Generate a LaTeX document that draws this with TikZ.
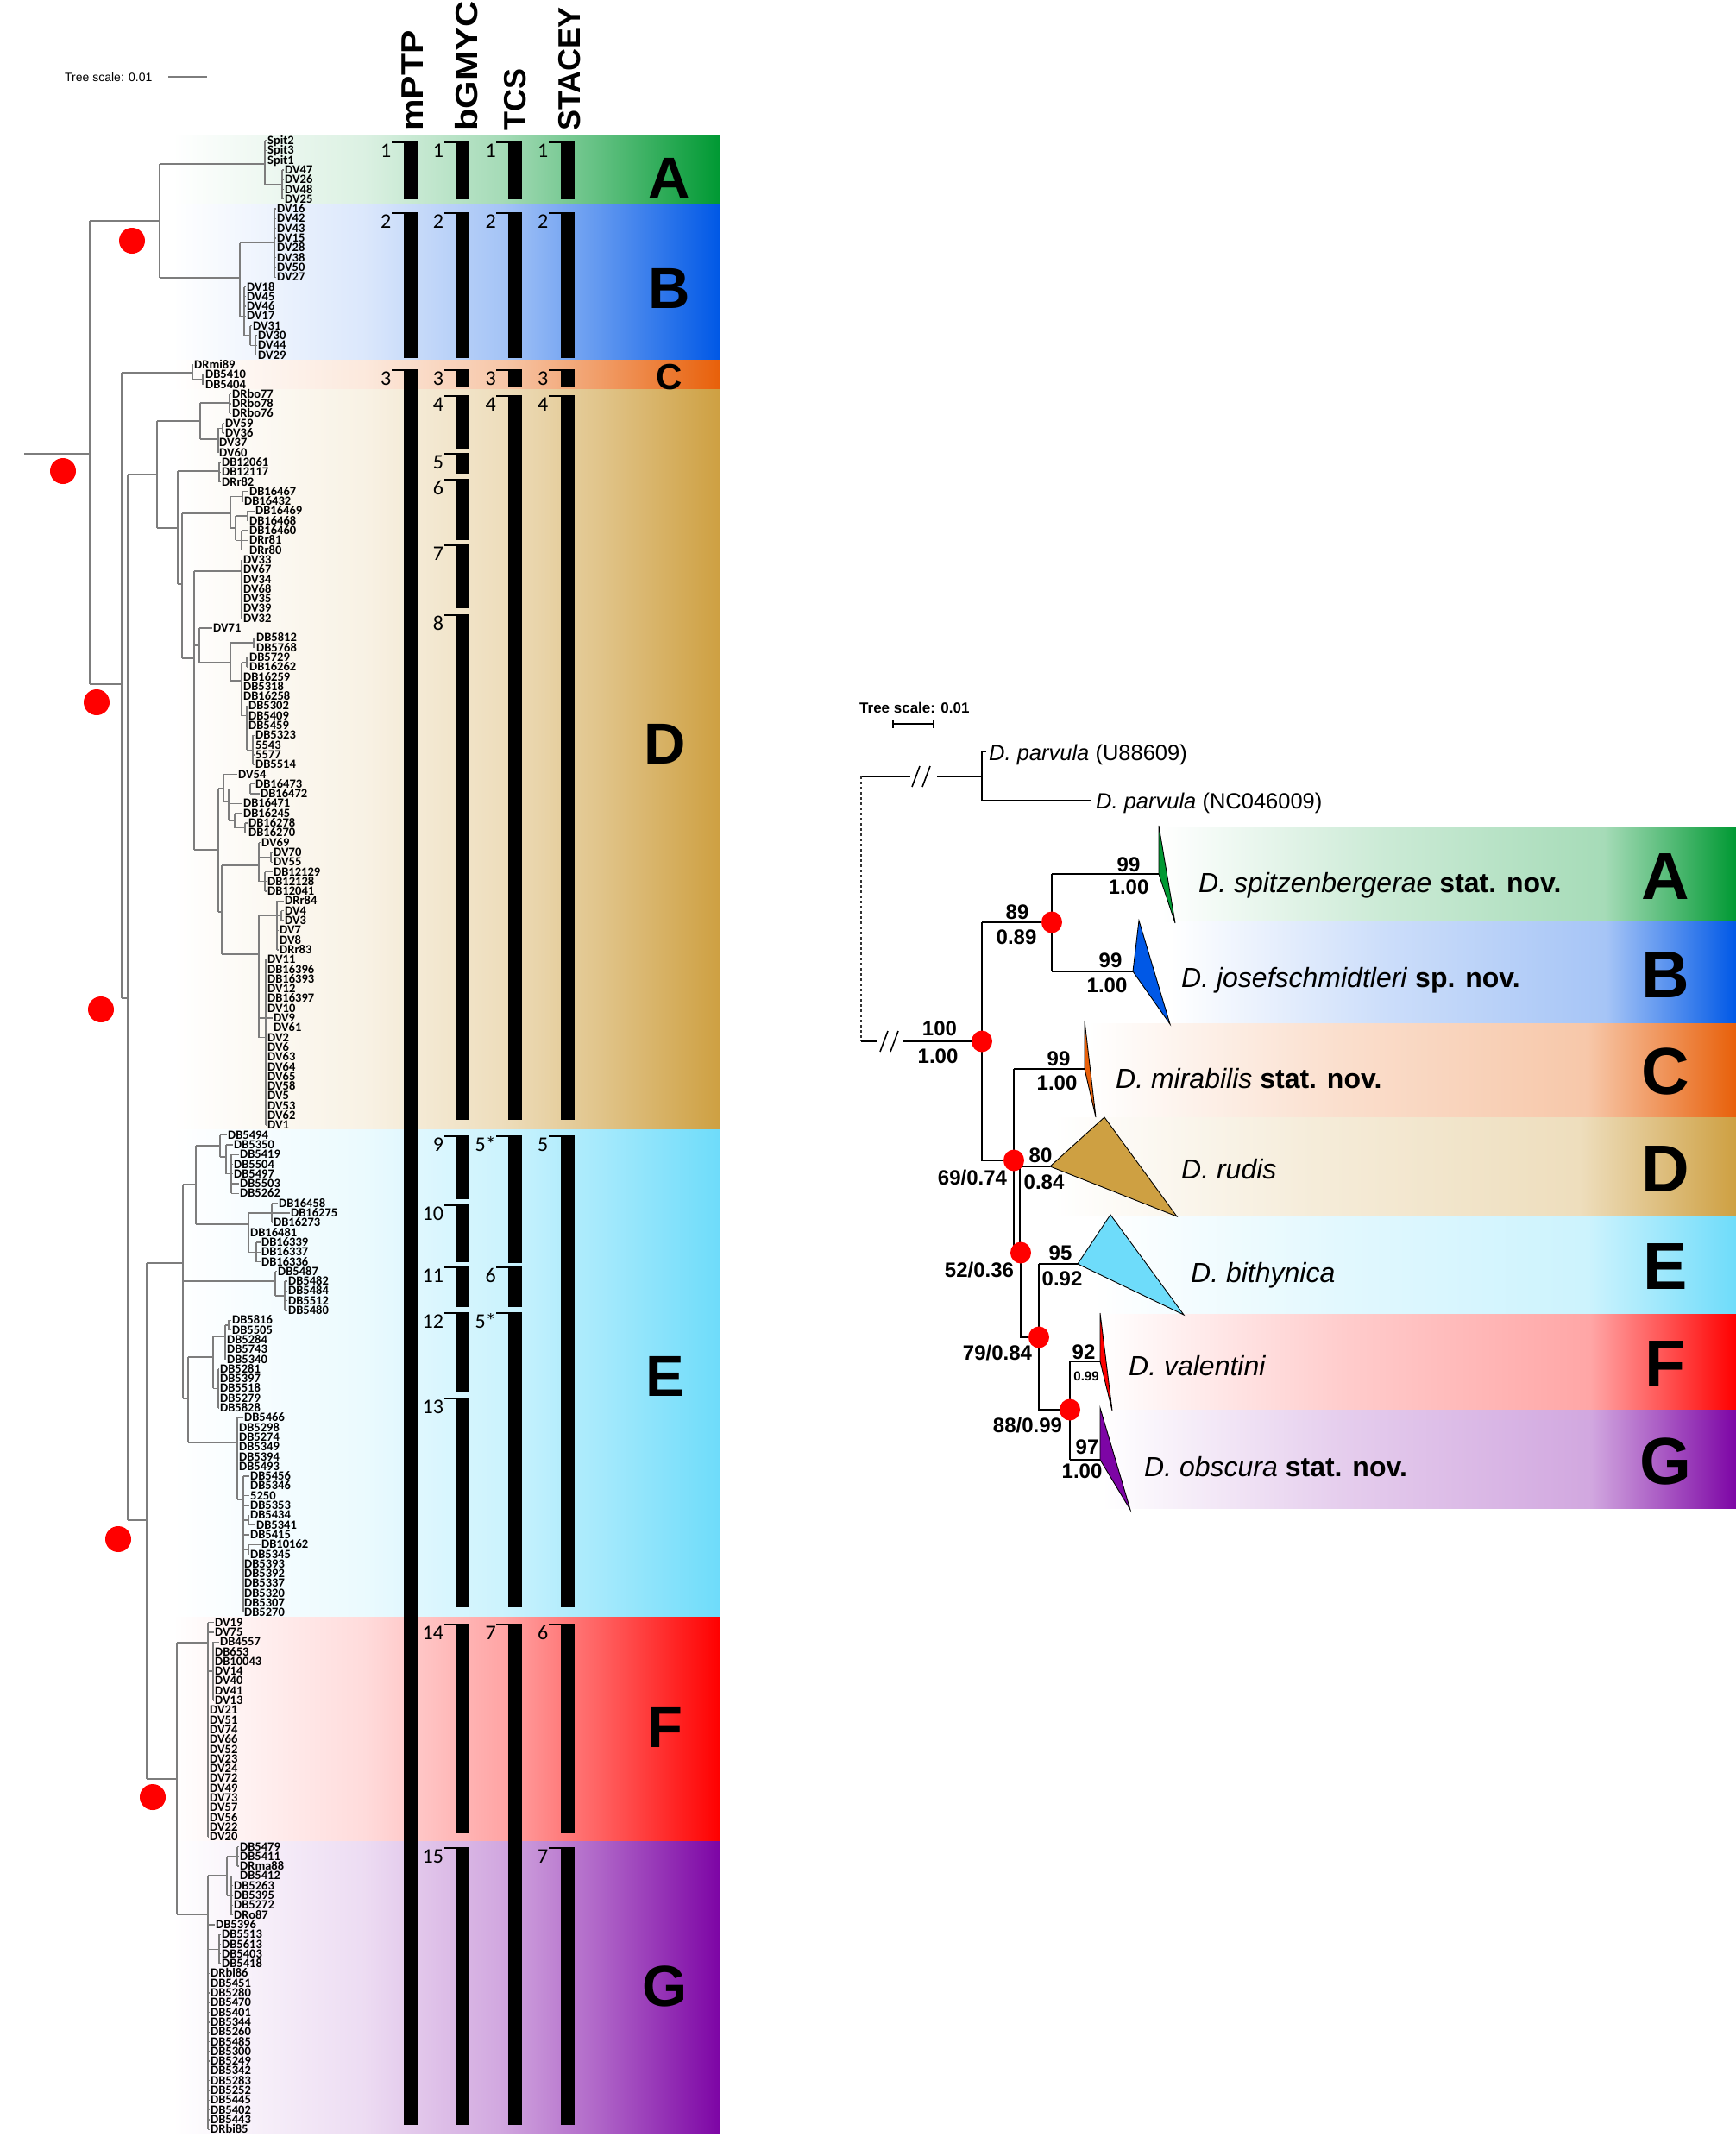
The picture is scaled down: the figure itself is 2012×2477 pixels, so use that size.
\documentclass[tikz,border=0pt]{standalone}
\usepackage{fontspec}
\setmainfont{Liberation Sans}
\newfontfamily\carl{Carlito}
\definecolor{cA}{RGB}{0,153,51}
\definecolor{cB}{RGB}{0,88,230}
\definecolor{cC}{RGB}{232,96,10}
\definecolor{cD}{RGB}{206,160,66}
\definecolor{cE}{RGB}{110,220,250}
\definecolor{cF}{RGB}{255,0,0}
\definecolor{cG}{RGB}{125,5,165}
\definecolor{treegray}{RGB}{125,125,125}
\newcommand\mkshade[2]{%
 \pgfdeclarehorizontalshading{L#1}{100bp}{color(0bp)=(white); color(25bp)=(white); color(42.5bp)=(#2!14); color(55bp)=(#2!35); color(63.5bp)=(#2!60); color(75bp)=(#2); color(100bp)=(#2)}%
 \pgfdeclarehorizontalshading{R#1}{100bp}{color(0bp)=(white); color(25bp)=(white); color(44bp)=(#2!20); color(63.5bp)=(#2!35); color(69.5bp)=(#2!68); color(75bp)=(#2); color(100bp)=(#2)}}
\mkshade{A}{cA}\mkshade{B}{cB}\mkshade{C}{cC}\mkshade{D}{cD}\mkshade{E}{cE}\mkshade{F}{cF}\mkshade{G}{cG}
\newcommand\Y[1]{163+11.3*(#1)}
\newcommand\hl[3]{\draw[tree] (#1,{#3}) -- (#2,{#3});}
\newcommand\vl[3]{\draw[tree] (#1,{#2}) -- (#1,{#3});}
\newcommand\pbar[4]{%
 \pgfmathsetmacro\xl{468+60.7*#1}%
 \fill (\xl,#2) rectangle ({\xl+15.5},#3);
 \fill ({\xl-14},#2) rectangle (\xl,{#2+2.3});
 \node[num] at ({\xl-14.5},{#2+18.5}) {#4};}
\tikzset{
 tree/.style={draw=treegray, line width=1.3pt},
 rt/.style={draw=black, line width=2.4pt},
 lab/.style={font=\carl\bfseries\fontsize{14.5}{14.5}\selectfont, inner sep=0pt, anchor=base west},
 num/.style={font=\carl\fontsize{24}{24}\selectfont, inner sep=0pt, anchor=base east},
 hdr/.style={font=\bfseries\fontsize{36}{36}\selectfont, inner sep=0pt, rotate=90, anchor=base west},
 bigL/.style={font=\bfseries\fontsize{67}{67}\selectfont, inner sep=0pt},
 bigR/.style={font=\bfseries\fontsize{77}{77}\selectfont, inner sep=0pt},
 sp/.style={font=\fontsize{32}{36}\selectfont, inner sep=0pt, anchor=base west},
 og/.style={font=\fontsize{25.5}{30}\selectfont, inner sep=0pt, anchor=base west},
 bs/.style={font=\bfseries\fontsize{24}{24}\selectfont, inner sep=0pt},
 tri/.style={draw=black, line width=0.9pt},
}
\begin{document}
\begin{tikzpicture}[x=1pt,y=-1pt]
\useasboundingbox (0,0) rectangle (2012,2477);
\fill[white] (0,0) rectangle (2012,2477);
% ---------- left bands
\shade[shading=LA] (200,157.35) rectangle (834,236.45);
\shade[shading=LB] (200,236.45) rectangle (834,417.25);
\shade[shading=LC] (200,417.25) rectangle (834,451.15);
\shade[shading=LD] (200,451.15) rectangle (834,1309.95);
\shade[shading=LE] (200,1309.95) rectangle (834,1874.95);
\shade[shading=LF] (200,1874.95) rectangle (834,2134.85);
\shade[shading=LG] (200,2134.85) rectangle (834,2473.85);
% ---------- left header
\node[font=\fontsize{14}{14}\selectfont, inner sep=0pt, anchor=west] (tsl) at (75,89) {Tree scale: 0.01};
\draw[treegray, line width=1.5pt] (195,89) -- (240,89);
\node[hdr] (hm) at (490,152) {\scalebox{1.14}[1]{mPTP}};
\node[hdr] (hb) at (553,152) {\scalebox{1.16}[1]{bGMYC}};
\node[hdr] (ht) at (609,152) {TCS};
\node[hdr] (hs) at (672,152) {STACEY};
% ---------- left backbone
\hl{28}{104}{526} \vl{104}{256}{793}
\hl{104}{185}{256} \vl{185}{190}{322}
\hl{185}{307}{190} \vl{307}{\Y{0}}{\Y{4.5}} \hl{307}{327}{\Y{4.5}} \vl{327}{\Y{3}}{\Y{6}}
\hl{185}{278}{322} \vl{278}{\Y{10.5}}{367} \hl{278}{318}{\Y{10.5}} \vl{318}{\Y{7}}{\Y{14}}
\hl{278}{283}{367} \vl{283}{\Y{15}}{\Y{20}} \hl{283}{290}{\Y{20}} \vl{290}{\Y{19}}{\Y{21}} \hl{290}{296}{\Y{21}} \vl{296}{\Y{20}}{\Y{22}}
\hl{104}{141}{793} \vl{141}{432}{1157}
\hl{141}{223}{432} \vl{223}{\Y{23}}{\Y{24.5}} \hl{223}{235}{\Y{24.5}} \vl{235}{\Y{24}}{\Y{25}}
\hl{141}{148}{1157} \vl{148}{550}{1762}
% D
\hl{148}{182}{550} \vl{182}{488}{612}
\hl{182}{232}{488} \vl{232}{467}{509} \hl{232}{266}{467} \vl{266}{\Y{26}}{\Y{28}}
\hl{232}{253}{509} \vl{253}{\Y{29.5}}{\Y{32}} \hl{253}{258}{\Y{29.5}} \vl{258}{\Y{29}}{\Y{30}}
\hl{182}{206}{612} \vl{206}{546}{677} \hl{206}{254}{546} \vl{254}{\Y{33}}{\Y{35}}
\hl{206}{211}{677} \vl{211}{595}{763} \hl{211}{267}{595} \vl{267}{\Y{36.5}}{612}
\hl{267}{281}{\Y{36.5}} \vl{281}{\Y{36}}{\Y{37}} \hl{267}{273}{612} \vl{273}{\Y{38.5}}{\Y{41}}
\hl{273}{287}{\Y{38.5}} \vl{287}{\Y{38}}{\Y{39}} \hl{273}{280}{\Y{41}} \vl{280}{\Y{40}}{\Y{42}}
\hl{211}{225}{763} \vl{225}{662}{985} \hl{225}{280}{662} \vl{280}{\Y{43}}{\Y{49}}
\hl{225}{231}{748} \vl{231}{\Y{50}}{768} \hl{231}{267}{768} \vl{267}{\Y{51.5}}{789}
\hl{267}{294}{\Y{51.5}} \vl{294}{\Y{51}}{\Y{52}} \hl{267}{280}{789} \vl{280}{\Y{53.5}}{\Y{59}}
\hl{280}{286}{\Y{53.5}} \vl{286}{\Y{53}}{\Y{54}} \hl{280}{286}{\Y{59}} \vl{286}{\Y{58}}{\Y{62.5}}
\hl{286}{293}{\Y{62.5}} \vl{293}{\Y{61}}{\Y{64}}
\hl{225}{253}{985} \vl{253}{914}{1057} \hl{253}{259}{914} \vl{259}{\Y{65}}{929}
\hl{259}{265}{929} \vl{265}{\Y{66.5}}{\Y{69.75}} \hl{265}{290}{\Y{66.5}} \vl{290}{\Y{66}}{\Y{67}}
\hl{265}{272}{\Y{69.75}} \vl{272}{\Y{69}}{\Y{70.5}} \hl{272}{284}{\Y{70.5}} \vl{284}{\Y{70}}{\Y{71}}
\hl{253}{257}{1057} \vl{257}{1003}{1106} \hl{257}{300}{1003} \vl{300}{\Y{72}}{\Y{76}}
\hl{300}{314}{\Y{73.5}} \vl{314}{\Y{73}}{\Y{74}} \hl{300}{307}{\Y{76}} \vl{307}{\Y{75}}{\Y{77}}
\hl{257}{300}{1106} \vl{300}{\Y{79.5}}{\Y{92}} \hl{300}{321}{\Y{79.5}} \vl{321}{\Y{78}}{\Y{83}}
\hl{321}{326}{\Y{79.5}} \vl{326}{\Y{79}}{\Y{80}} \hl{300}{308}{\Y{92}} \vl{308}{\Y{84}}{\Y{101}}
% EFG
\hl{148}{170}{1762} \vl{170}{1464}{2062}
\hl{170}{212}{1464} \vl{212}{1373}{1621}
\hl{212}{227}{1373} \vl{227}{1328}{1419} \hl{227}{255}{1328} \vl{255}{\Y{102}}{\Y{104.25}}
\hl{255}{262}{\Y{104.25}} \vl{262}{\Y{103}}{\Y{106}} \hl{262}{268}{\Y{106}} \vl{268}{\Y{104}}{\Y{108}}
\hl{227}{288}{1419} \vl{288}{\Y{110}}{\Y{114}} \hl{288}{315}{\Y{110}} \vl{315}{\Y{109}}{\Y{111}}
\hl{288}{297}{\Y{114}} \vl{297}{\Y{113}}{\Y{115}}
\hl{212}{319}{1485} \vl{319}{\Y{116}}{\Y{118.5}} \hl{319}{330}{\Y{118.5}} \vl{330}{\Y{117}}{\Y{120}}
\hl{212}{218}{1621} \vl{218}{1573}{1672} \hl{218}{247}{1573} \vl{247}{1549}{\Y{128}}
\hl{247}{261}{1549} \vl{261}{\Y{121.5}}{\Y{125}} \hl{261}{265}{\Y{121.5}} \vl{265}{\Y{121}}{\Y{122}}
\hl{247}{253}{\Y{128}} \vl{253}{\Y{126}}{\Y{130}}
\hl{218}{275}{1672} \vl{275}{\Y{131}}{1738} \hl{275}{282}{1738} \vl{282}{\Y{137}}{\Y{151}}
\hl{282}{288}{\Y{141.5}} \vl{288}{\Y{141}}{\Y{142}} \hl{282}{288}{\Y{144.5}} \vl{288}{\Y{144}}{\Y{145}}
\hl{170}{205}{2062} \vl{205}{1904}{2219}
\hl{205}{241}{1904} \vl{241}{\Y{152}}{\Y{174}} \hl{241}{247}{\Y{157}} \vl{247}{\Y{154}}{\Y{160}}
\hl{205}{241}{2219} \vl{241}{2174}{\Y{204}} \hl{241}{263}{2174} \vl{263}{\Y{176}}{\Y{180}}
\hl{263}{275}{\Y{176}} \vl{275}{\Y{175}}{\Y{177}} \hl{263}{268}{\Y{180}} \vl{268}{\Y{178}}{\Y{182}}
\hl{241}{254}{\Y{185.5}} \vl{254}{\Y{184}}{\Y{187}}
% ---------- leaves
\foreach \i/\x/\n/\p in {0/310/Spit2/307,1/310/Spit3/307,2/310/Spit1/307,3/330/DV47/327,4/330/DV26/327,5/330/DV48/327,6/330/DV25/327,
7/321/DV16/318,8/321/DV42/318,9/321/DV43/318,10/321/DV15/318,11/321/DV28/318,12/321/DV38/318,13/321/DV50/318,14/321/DV27/318,15/286/DV18/283,16/286/DV45/283,17/286/DV46/283,18/286/DV17/283,19/293/DV31/290,20/299/DV30/296,21/299/DV44/296,22/299/DV29/296,
23/225/DRmi89/223,24/238/DB5410/235,25/238/DB5404/235,
26/269/DRbo77/266,27/269/DRbo78/266,28/269/DRbo76/266,29/261/DV59/258,30/261/DV36/258,31/254/DV37/253,32/254/DV60/253,33/257/DB12061/254,34/257/DB12117/254,35/257/DRr82/254,36/289/DB16467/281,37/283/DB16432/281,38/296/DB16469/287,39/289/DB16468/287,40/289/DB16460/280,41/289/DRr81/280,42/289/DRr80/280,
43/282/DV33/280,44/282/DV67/280,45/282/DV34/280,46/282/DV68/280,47/282/DV35/280,48/282/DV39/280,49/282/DV32/280,50/247/DV71/231,51/297/DB5812/294,52/297/DB5768/294,53/289/DB5729/286,54/289/DB16262/286,55/282/DB16259/280,56/282/DB5318/280,57/282/DB16258/280,58/288/DB5302/286,59/288/DB5409/286,60/288/DB5459/286,61/296/DB5323/293,62/296/5543/293,63/296/5577/293,64/296/DB5514/293,
65/276/DV54/259,66/296/DB16473/290,67/302/DB16472/290,68/282/DB16471/265,69/282/DB16245/272,70/288/DB16278/284,71/288/DB16270/284,72/303/DV69/300,73/317/DV70/314,74/317/DV55/314,75/317/DB12129/307,76/310/DB12128/307,77/310/DB12041/307,78/330/DRr84/321,79/330/DV4/326,80/330/DV3/326,81/324/DV7/321,82/324/DV8/321,83/324/DRr83/321,
84/310/DV11/308,85/310/DB16396/308,86/310/DB16393/308,87/310/DV12/308,88/310/DB16397/308,89/310/DV10/308,90/317/DV9/300,91/317/DV61/308,92/310/DV2/308,93/310/DV6/308,94/310/DV63/308,95/310/DV64/308,96/310/DV65/308,97/310/DV58/308,98/310/DV5/308,99/310/DV53/308,100/310/DV62/308,101/310/DV1/308,
102/264/DB5494/255,103/271/DB5350/262,104/278/DB5419/268,105/271/DB5504/268,106/271/DB5497/268,107/278/DB5503/268,108/278/DB5262/268,109/323/DB16458/315,110/337/DB16275/315,111/317/DB16273/315,112/290/DB16481/288,113/303/DB16339/297,114/303/DB16337/297,115/303/DB16336/297,
116/322/DB5487/319,117/334/DB5482/330,118/334/DB5484/330,119/334/DB5512/330,120/334/DB5480/330,121/269/DB5816/265,122/269/DB5505/265,123/263/DB5284/261,124/263/DB5743/261,125/263/DB5340/261,126/255/DB5281/253,127/255/DB5397/253,128/255/DB5518/253,129/255/DB5279/253,130/255/DB5828/253,
131/283/DB5466/275,132/277/DB5298/275,133/277/DB5274/275,134/277/DB5349/275,135/277/DB5394/275,136/277/DB5493/275,137/290/DB5456/282,138/290/DB5346/282,139/290/5250/282,140/290/DB5353/282,141/290/DB5434/288,142/297/DB5341/288,143/290/DB5415/282,144/303/DB10162/288,145/290/DB5345/288,146/283/DB5393/282,147/283/DB5392/282,148/283/DB5337/282,149/283/DB5320/282,150/283/DB5307/282,151/283/DB5270/282,
152/249/DV19/241,153/249/DV75/241,154/255/DB4557/247,155/249/DB653/247,156/249/DB10043/247,157/249/DV14/247,158/249/DV40/247,159/249/DV41/247,160/249/DV13/247,161/243/DV21/241,162/243/DV51/241,163/243/DV74/241,164/243/DV66/241,165/243/DV52/241,166/243/DV23/241,167/243/DV24/241,168/243/DV72/241,169/243/DV49/241,170/243/DV73/241,171/243/DV57/241,172/243/DV56/241,173/243/DV22/241,174/243/DV20/241,
175/278/DB5479/275,176/278/DB5411/275,177/278/DRma88/275,178/278/DB5412/268,179/271/DB5263/268,180/271/DB5395/268,181/271/DB5272/268,182/271/DRo87/268,183/250/DB5396/241,184/257/DB5513/254,185/257/DB5613/254,186/257/DB5403/254,187/257/DB5418/254,
188/244/DRbi86/241,189/244/DB5451/241,190/244/DB5280/241,191/244/DB5470/241,192/244/DB5401/241,193/244/DB5344/241,194/244/DB5260/241,195/244/DB5485/241,196/244/DB5300/241,197/244/DB5249/241,198/244/DB5342/241,199/244/DB5283/241,200/244/DB5252/241,201/244/DB5445/241,202/244/DB5402/241,203/244/DB5443/241,204/244/DRbi85/241}
{\draw[tree] (\p,{\Y{\i}}) -- ({\x-1},{\Y{\i}}); \node[lab] (leaf\i) at (\x,{\Y{\i}+4.5}) {\n};}
% left red dots
\foreach \a/\b in {153/279,73/546,112/814,117/1170,137/1784,177/2083} \fill[red] (\a,\b) circle (15pt);
% ---------- delimitation bars
\pbar{0}{164}{231}{1} \pbar{0}{246}{415}{2} \pbar{0}{428}{2463}{3}
\pbar{1}{164}{231}{1} \pbar{1}{246}{415}{2} \pbar{1}{428}{448}{3} \pbar{1}{458}{520}{4} \pbar{1}{525}{549}{5} \pbar{1}{555}{626}{6} \pbar{1}{631}{705}{7} \pbar{1}{712}{1298}{8}
\pbar{1}{1316}{1390}{9} \pbar{1}{1396}{1463}{10} \pbar{1}{1468}{1515}{11} \pbar{1}{1521}{1614}{12} \pbar{1}{1620}{1863}{13} \pbar{1}{1882}{2125}{14} \pbar{1}{2141}{2463}{15}
\pbar{2}{164}{231}{1} \pbar{2}{246}{415}{2} \pbar{2}{428}{448}{3} \pbar{2}{458}{1298}{4} \pbar{2}{1316}{1464}{5*} \pbar{2}{1468}{1515}{6} \pbar{2}{1521}{1863}{5*} \pbar{2}{1882}{2463}{7}
\pbar{3}{164}{231}{1} \pbar{3}{246}{415}{2} \pbar{3}{428}{448}{3} \pbar{3}{458}{1298}{4} \pbar{3}{1316}{1863}{5} \pbar{3}{1882}{2125}{6} \pbar{3}{2141}{2463}{7}
% left letters
\node[bigL] (LA) at (776,206) {A};
\node[bigL] (LB) at (776,334) {B};
\node[font=\bfseries\fontsize{42}{42}\selectfont, inner sep=0pt] (LC) at (776,437) {C};
\node[bigL] (LD) at (771,862) {D};
\node[bigL] (LE) at (771,1595) {E};
\node[bigL] (LF) at (771,2002) {F};
\node[bigL] (LG) at (771,2302) {G};
% ---------- right bands
\shade[shading=RA] (1346,958) rectangle (2012,1068);
\shade[shading=RB] (1356,1068) rectangle (2012,1186);
\shade[shading=RC] (1262,1186) rectangle (2012,1295);
\shade[shading=RD] (1222,1295) rectangle (2012,1409);
\shade[shading=RE] (1268,1409) rectangle (2012,1523);
\shade[shading=RF] (1278,1523) rectangle (2012,1634);
\shade[shading=RG] (1278,1634) rectangle (2012,1748);
% right scale
\node[font=\bfseries\fontsize{17}{17}\selectfont, inner sep=0pt, anchor=west] (tsr) at (996,820) {Tree scale: 0.01};
\draw[line width=1.6pt] (1035,839) -- (1082,839) (1035,834) -- (1035,844) (1082,834) -- (1082,844);
% outgroup
\draw[rt] (998,900) -- (1055,900) (1086,900) -- (1138,900);
\draw[line width=1.6pt] (1057,912) -- (1066,888) (1069,912) -- (1078,888);
\draw[rt] (1138,871) -- (1138,928) (1138,871) -- (1143,871) (1138,928) -- (1264,928);
\node[og] (o1) at (1146,881) {\textit{D. parvula} (U88609)};
\node[og] (o2) at (1270,937) {\textit{D. parvula} (NC046009)};
\draw[black!80, line width=1.2pt, dash pattern=on 3pt off 3pt] (998,900) -- (998,1207);
\draw[rt] (998,1207) -- (1016,1207) (1046,1207) -- (1138,1207);
\draw[line width=1.6pt] (1020,1219) -- (1029,1195) (1032,1219) -- (1041,1195);
% ingroup tree
\coordinate (root) at (1138,1207);
\coordinate (nAB) at (1219,1069);
\coordinate (n69) at (1175,1345);
\coordinate (n52) at (1183,1452);
\coordinate (n79) at (1204,1550);
\coordinate (n88) at (1240,1634);
\draw[rt] (1138,1069) -- (1138,1345) -- (n69);
\draw[rt] (1138,1069) -- (nAB);
\draw[rt] (1219,1013) -- (1219,1126);
\draw[rt] (1219,1013) -- (1343,1013);
\draw[rt] (1219,1126) -- (1313,1126);
\draw[rt] (1175,1239) -- (1175,1452);
\draw[rt] (1175,1239) -- (1257,1239);
\draw[rt] (1182,1352) -- (1182,1452);
\draw[rt] (1182,1352) -- (1217,1352);
\draw[rt] (n52) -- (1183,1550) -- (n79);
\draw[rt] (1204,1465) -- (1204,1634) -- (n88);
\draw[rt] (1204,1465) -- (1249,1465);
\draw[rt] (1240,1578) -- (1240,1692);
\draw[rt] (1240,1578) -- (1275,1578);
\draw[rt] (1240,1692) -- (1275,1692);
% collapsed clades
\filldraw[tri, fill=cA] (1343,957) -- (1343,1013) -- (1362,1070) -- cycle;
\filldraw[tri, fill=cB] (1320,1067) -- (1313,1126) -- (1356,1187) -- cycle;
\filldraw[tri, fill=cC] (1257,1183) -- (1257,1239) -- (1270,1295) -- cycle;
\filldraw[tri, fill=cD] (1280,1295) -- (1217,1352) -- (1364,1410) -- cycle;
\filldraw[tri, fill=cE] (1287,1408) -- (1249,1465) -- (1372,1524) -- cycle;
\filldraw[tri, fill=cF] (1275,1522) -- (1275,1578) -- (1289,1635) -- cycle;
\filldraw[tri, fill=cG] (1275,1632) -- (1275,1692) -- (1310,1750) -- cycle;
% red dots
\foreach \c in {root,nAB,n69,n52,n79,n88} \fill[red] (\c) ellipse [x radius=12pt, y radius=12.5pt];
% support values
\node[bs] at (1089,1192) {100}; \node[bs] at (1087,1224) {1.00};
\node[bs] at (1179,1057) {89}; \node[bs] at (1178,1086) {0.89};
\node[bs] at (1308,1002) {99}; \node[bs] at (1308,1028) {1.00};
\node[bs] at (1287,1113) {99}; \node[bs] at (1283,1142) {1.00};
\node[bs] at (1227,1227) {99}; \node[bs] at (1225,1255) {1.00};
\node[bs] at (1206,1339) {80}; \node[bs] at (1210,1370) {0.84};
\node[bs] at (1127,1365) {69/0.74};
\node[bs] at (1135,1472) {52/0.36};
\node[bs] at (1229,1452) {95}; \node[bs] at (1231,1482) {0.92};
\node[bs] at (1156,1568) {79/0.84};
\node[bs] at (1256,1567) {92}; \node[font=\bfseries\fontsize{15}{15}\selectfont, inner sep=0pt] at (1259,1595) {0.99};
\node[bs] at (1191,1652) {88/0.99};
\node[bs] at (1260,1677) {97}; \node[bs] at (1254,1705) {1.00};
% species
\node[sp] (sA) at (1389,1034) {\textit{D. spitzenbergerae} \textbf{stat. nov.}};
\node[sp] (sB) at (1369,1144) {\textit{D. josefschmidtleri} \textbf{sp. nov.}};
\node[sp] (sC) at (1293,1261) {\textit{D. mirabilis} \textbf{stat. nov.}};
\node[sp] (sD) at (1369,1366) {\textit{D. rudis}};
\node[sp] (sE) at (1380,1486) {\textit{D. bithynica}};
\node[sp] (sF) at (1308,1594) {\textit{D. valentini}};
\node[sp] (sG) at (1326,1711) {\textit{D. obscura} \textbf{stat. nov.}};
% right letters
\node[bigR] (RA) at (1930,1016) {A};
\node[bigR] (RB) at (1930,1130) {B};
\node[bigR] (RC) at (1930,1242) {C};
\node[bigR] (RD) at (1930,1355) {D};
\node[bigR] (RE) at (1930,1468) {E};
\node[bigR] (RF) at (1930,1581) {F};
\node[bigR] (RG) at (1930,1694) {G};
\end{tikzpicture}
\end{document}
